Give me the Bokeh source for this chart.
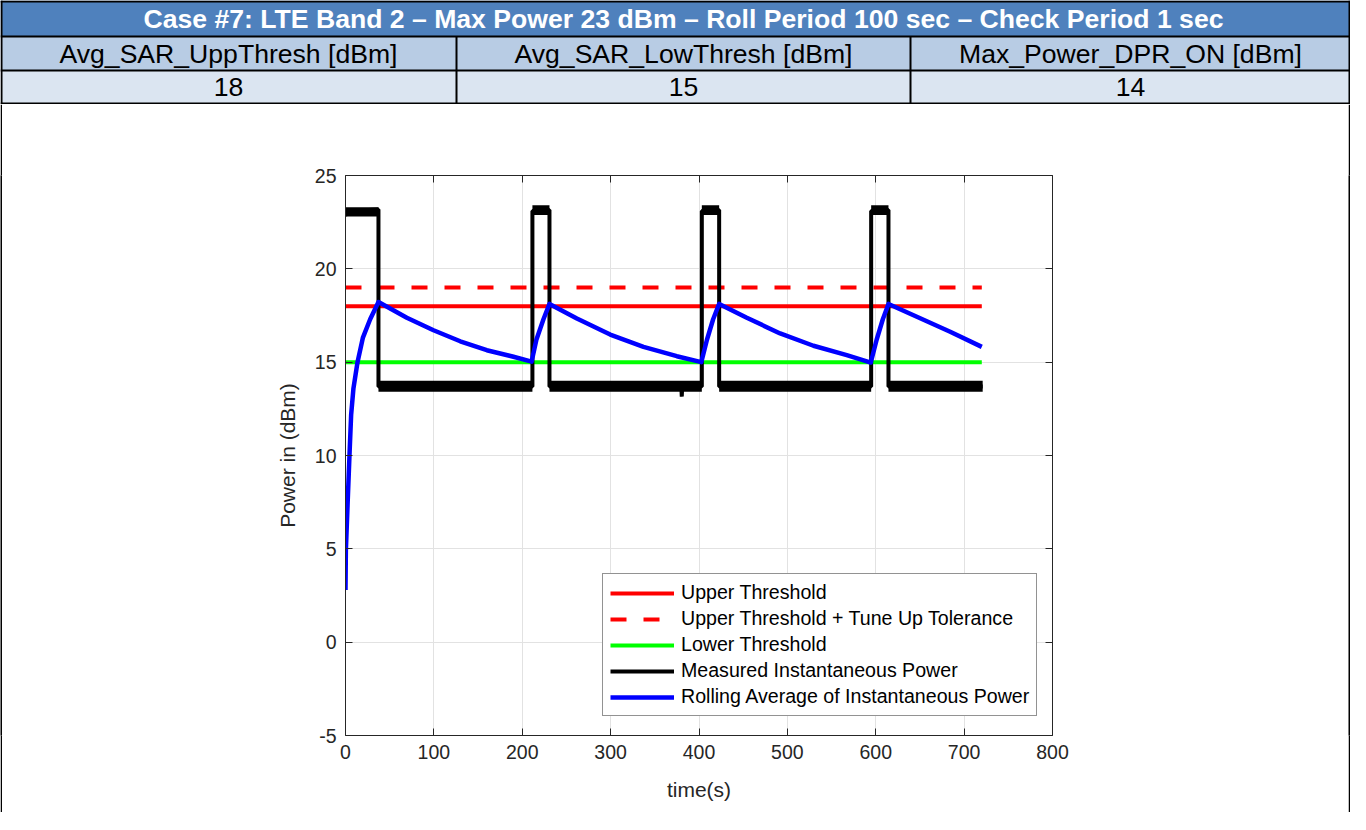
from bokeh.plotting import figure
from bokeh.models import Range1d, LinearAxis, Legend, LegendItem, FixedTicker
from bokeh.layouts import column, row
from bokeh.embed import file_html
from bokeh.resources import INLINE
from bokeh.core.properties import value

# ---------------- data ----------------
title_text = "Case #7: LTE Band 2 \u2013 Max Power 23 dBm \u2013 Roll Period 100 sec \u2013 Check Period 1 sec"
param_names = ["Avg_SAR_UppThresh [dBm]", "Avg_SAR_LowThresh [dBm]", "Max_Power_DPR_ON [dBm]"]
param_values = ["18", "15", "14"]

upper_threshold = 18
tune_up_threshold = 19
lower_threshold = 15
threshold_t = [0, 720]

meas_t = [0, 6, 15, 26, 37.3, 37.3, 211.5, 211.5, 230.8, 230.8, 380.0, 380.5, 381.0,
          403.2, 403.2, 422.8, 422.8, 594.8, 594.8, 614.4, 614.4, 721.0]
meas_p = [22.9, 23.0, 23.1, 23.15, 23.18, 13.7, 13.7, 23.1, 23.15, 13.7, 13.7, 13.15, 13.7,
          13.7, 23.1, 23.15, 13.7, 13.7, 23.1, 23.15, 13.7, 13.7]

# spread (noise band) of the measured power on each plateau
band_start = [0, 37.3, 211.5, 230.8, 403.2, 422.8, 594.8, 614.4]
band_end = [37.3, 211.5, 230.8, 403.2, 422.8, 594.8, 614.4, 721.0]
band_lo = [22.8, 13.42, 22.88, 13.42, 22.88, 13.42, 22.88, 13.42]
band_hi = [23.3, 14.0, 23.4, 14.0, 23.4, 14.0, 23.4, 14.0]

avg_t = [0, 0.4, 2.3, 4.5, 6.4, 9.0, 13.6, 19.6, 27.9, 37.3,
         69.4, 99.6, 129.8, 159.9, 190.1, 210.6, 216.0, 224.0, 230.8,
         261.8, 299.5, 337.2, 374.9, 402.6, 409.0, 416.0, 422.8,
         454.1, 491.8, 529.5, 567.2, 594.4, 601.0, 608.0, 614.4,
         646.5, 684.2, 720.0]
avg_p = [2.8, 4.9, 7.3, 10.0, 12.2, 13.6, 15.0, 16.3, 17.3, 18.22,
         17.38, 16.71, 16.12, 15.64, 15.29, 15.03, 16.2, 17.3, 18.12,
         17.34, 16.48, 15.82, 15.32, 15.0, 16.2, 17.3, 18.12,
         17.38, 16.54, 15.88, 15.38, 14.98, 16.2, 17.3, 18.12,
         17.43, 16.63, 15.82]

x_ticks = [0, 100, 200, 300, 400, 500, 600, 700, 800]
y_ticks = [-5, 0, 5, 10, 15, 20, 25]
legend_labels = ["Upper Threshold", "Upper Threshold + Tune Up Tolerance", "Lower Threshold",
                 "Measured Instantaneous Power", "Rolling Average of Instantaneous Power"]

FONT = "Liberation Sans"
TXT = "#262626"

# ---------------- table (header) ----------------
TW, TH = 1350, 104
tbl = figure(width=TW, height=TH, x_range=Range1d(0, TW), y_range=Range1d(TH, 0),
             output_backend="svg", toolbar_location=None, min_border=0,
             x_axis_location=None, y_axis_location=None)
tbl.grid.visible = False
tbl.outline_line_color = None
tbl.background_fill_color = "white"
tbl.border_fill_color = "white"

col_edges = [0, 456, 910, TW]
col_centers = [(col_edges[i] + col_edges[i + 1]) / 2 for i in range(3)]

tbl.quad(left=[0], right=[TW], top=[0], bottom=[36], fill_color="#4F81BD", line_color=None)
tbl.quad(left=[0], right=[TW], top=[36], bottom=[70], fill_color="#B8CCE4", line_color=None)
tbl.quad(left=[0], right=[TW], top=[70], bottom=[103], fill_color="#DBE5F1", line_color=None)
tbl.multi_line(xs=[[0, TW], [0, TW], [0, TW], [0, TW], [1, 1], [TW - 1, TW - 1],
                   [col_edges[1]] * 2, [col_edges[2]] * 2],
               ys=[[1, 1], [36, 36], [70, 70], [103, 103], [0, TH], [0, TH], [36, 103], [36, 103]],
               line_color="black", line_width=2)
tbl.text(x=[TW / 2 + 8], y=[18], text=[title_text], text_color="white", text_font=value(FONT),
         text_font_style="bold", text_font_size=value("26.6px"), text_align="center", text_baseline="middle")
tbl.text(x=col_centers, y=[53] * 3, text=param_names, text_color="black", text_font=value(FONT),
         text_font_size=value("26.6px"), text_align="center", text_baseline="middle")
tbl.text(x=col_centers, y=[86] * 3, text=param_values, text_color="black", text_font=value(FONT),
         text_font_size=value("26.6px"), text_align="center", text_baseline="middle")


def bar(w, h):
    b = figure(width=w, height=h, output_backend="svg", toolbar_location=None, min_border=0,
               x_axis_location=None, y_axis_location=None)
    b.grid.visible = False
    b.outline_line_color = None
    b.background_fill_color = "black"
    b.border_fill_color = "black"
    return b


# ---------------- chart ----------------
CH = 814 - TH - 2
p = figure(width=TW - 4, height=CH, x_range=Range1d(0, 800), y_range=Range1d(-5, 25),
           output_backend="svg", toolbar_location=None,
           min_border_left=343, min_border_right=296, min_border_top=71, min_border_bottom=CH - 631)
p.background_fill_color = "white"
p.border_fill_color = "white"
p.outline_line_color = None

xt = FixedTicker(ticks=x_ticks)
yt = FixedTicker(ticks=y_ticks)
p.xaxis.ticker = xt
p.yaxis.ticker = yt
p.xgrid.ticker = xt
p.ygrid.ticker = yt
p.grid.grid_line_color = "#e2e2e2"
p.grid.grid_line_width = 1

p.below[0].axis_label = "time(s)"
p.left[0].axis_label = "Power in (dBm)"
p.left[0].major_label_overrides = {-5: "-5"}

p.add_layout(LinearAxis(ticker=xt, major_label_overrides={t: "" for t in x_ticks}), "above")
p.add_layout(LinearAxis(ticker=yt, major_label_overrides={t: "" for t in y_ticks}), "right")

for ax in p.axis:
    ax.axis_line_color = TXT
    ax.axis_line_width = 1
    ax.major_tick_line_color = TXT
    ax.major_tick_in = 7
    ax.major_tick_out = 0
    ax.minor_tick_line_color = None
    ax.major_label_text_font = FONT
    ax.major_label_text_font_size = "19.5px"
    ax.major_label_text_color = TXT
    ax.major_label_standoff = 9
    ax.axis_label_text_font = FONT
    ax.axis_label_text_font_size = "21px"
    ax.axis_label_text_font_style = "normal"
    ax.axis_label_text_color = TXT
p.below[0].axis_label_standoff = 16
p.left[0].axis_label_standoff = 13

r_up = p.line(threshold_t, [upper_threshold] * 2, line_color="#FF0000", line_width=4)
r_tol = p.line(threshold_t, [tune_up_threshold] * 2, line_color="#FF0000", line_width=4, line_dash="16 17")
r_low = p.line(threshold_t, [lower_threshold] * 2, line_color="#00FF00", line_width=4)
p.quad(left=band_start, right=band_end, bottom=band_lo, top=band_hi, fill_color="black", line_color=None)
r_meas = p.line(meas_t, meas_p, line_color="black", line_width=4)
r_avg = p.line(avg_t, avg_p, line_color="#0000FF", line_width=4.5, line_join="round")

legend = Legend(items=[LegendItem(label=legend_labels[0], renderers=[r_up]),
                       LegendItem(label=legend_labels[1], renderers=[r_tol]),
                       LegendItem(label=legend_labels[2], renderers=[r_low]),
                       LegendItem(label=legend_labels[3], renderers=[r_meas]),
                       LegendItem(label=legend_labels[4], renderers=[r_avg])],
                location=(257, 19))
legend.label_text_font = FONT
legend.label_text_font_size = "19.6px"
legend.label_text_color = "black"
legend.glyph_width = 64
legend.glyph_height = 20
legend.label_height = 20
legend.label_standoff = 7
legend.spacing = 3
legend.padding = 7
legend.margin = 0
legend.border_line_color = TXT
legend.border_line_width = 1
legend.background_fill_color = "white"
legend.background_fill_alpha = 1
p.add_layout(legend)

layout = column(tbl, row(bar(2, CH), p, bar(2, CH)), bar(TW, 2))

open("out.html", "w").write(file_html(layout, INLINE))
